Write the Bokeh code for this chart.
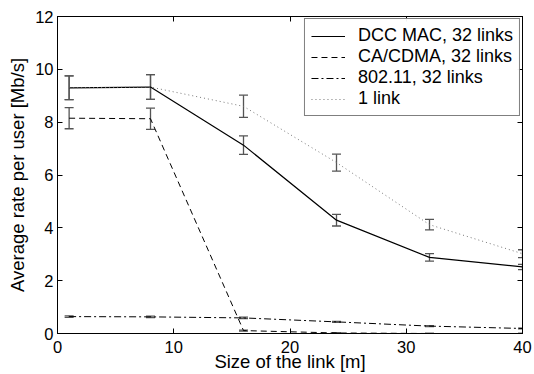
from bokeh.plotting import figure
from bokeh.models import (ColumnDataSource, Whisker, TeeHead, LinearAxis, Range1d,
                          FixedTicker, Legend, LegendItem)
from bokeh.embed import file_html
from bokeh.resources import INLINE

# Link size [m]
sizes = [1, 8, 16, 24, 32, 40]

# Average rate per user [Mb/s] and error half-widths
dcc_rate = [9.30, 9.33, 7.13, 4.29, 2.88, 2.52]
dcc_err = [0.45, 0.47, 0.35, 0.22, 0.14, 0.10]

cacdma_rate = [8.15, 8.13, 0.11, 0.02, 0.0, 0.0]
cacdma_err = [0.40, 0.40, 0.02, 0.01, 0.0, 0.0]

wifi_rate = [0.64, 0.63, 0.59, 0.44, 0.28, 0.19]
wifi_err = [0.03, 0.03, 0.03, 0.02, 0.02, 0.01]

single_rate = [9.30, 9.33, 8.60, 6.47, 4.12, 3.02]
single_err = [0.45, 0.47, 0.42, 0.32, 0.20, 0.15]

x_ticks = [0, 10, 20, 30, 40]
y_ticks = [0, 2, 4, 6, 8, 10, 12]

FONT = "Liberation Sans"

p = figure(width=534, height=374, output_backend="svg", toolbar_location=None,
           x_range=Range1d(0, 40), y_range=Range1d(0, 12),
           min_border_left=57, min_border_right=12, min_border_top=16, min_border_bottom=41)
p.xgrid.visible = False
p.ygrid.visible = False
p.outline_line_color = "black"
p.outline_line_width = 1
p.background_fill_color = "white"
p.border_fill_color = "white"

series = [
    ("DCC MAC, 32 links", dcc_rate, dcc_err, "black", "solid", 1.2),
    ("CA/CDMA, 32 links", cacdma_rate, cacdma_err, "black", "6 4", 1.0),
    ("802.11, 32 links", wifi_rate, wifi_err, "black", "7 3 2 3", 1.0),
    ("1 link", single_rate, single_err, "#777777", "1 3", 1.0),
]

items = []
for name, rate, err, color, dash, lw in series:
    src = ColumnDataSource(dict(
        x=sizes, y=rate,
        lo=[r - e for r, e in zip(rate, err)],
        hi=[r + e for r, e in zip(rate, err)],
    ))
    w = Whisker(base="x", lower="lo", upper="hi", source=src,
                line_color="#555555", line_width=1.3,
                upper_head=TeeHead(size=9, line_color="#555555", line_width=1.3),
                lower_head=TeeHead(size=9, line_color="#555555", line_width=1.3))
    p.add_layout(w)
    r = p.line("x", "y", source=src, line_color=color, line_dash=dash, line_width=lw)
    items.append(LegendItem(label=name, renderers=[r]))

legend = Legend(items=items, location="top_right")
legend.border_line_color = "black"
legend.border_line_width = 1
legend.label_text_font = FONT
legend.label_text_font_size = "18px"
legend.label_text_color = "black"
legend.glyph_width = 34
legend.glyph_height = 16
legend.label_height = 16
legend.spacing = 0
legend.padding = 6
legend.margin = 2
legend.label_standoff = 13
p.add_layout(legend)

for ax, ticks in ((p.xaxis[0], x_ticks), (p.yaxis[0], y_ticks)):
    ax.ticker = FixedTicker(ticks=ticks)
    ax.major_tick_in = 5
    ax.major_tick_out = 0
    ax.minor_tick_line_color = None
    ax.axis_line_color = "black"
    ax.major_label_text_font = FONT
    ax.major_label_text_font_size = "16.5px"
    ax.major_label_text_color = "black"
    ax.axis_label_text_font = FONT
    ax.axis_label_text_font_size = "18.5px"
    ax.axis_label_text_font_style = "normal"
    ax.axis_label_text_color = "black"

p.xaxis.axis_label = "Size of the link [m]"
p.yaxis.axis_label = "Average rate per user [Mb/s]"
p.xaxis.major_label_standoff = 7
p.yaxis.major_label_standoff = 4
p.xaxis.axis_label_standoff = -5
p.yaxis.axis_label_standoff = 4

# Inward ticks on the top and right edges of the box, without labels
top = LinearAxis(ticker=FixedTicker(ticks=x_ticks),
                 major_label_overrides={t: "" for t in x_ticks},
                 major_tick_in=5, major_tick_out=0, minor_tick_line_color=None)
right = LinearAxis(ticker=FixedTicker(ticks=y_ticks),
                   major_label_overrides={t: "" for t in y_ticks},
                   major_tick_in=5, major_tick_out=0, minor_tick_line_color=None)
top.major_label_standoff = 0
right.major_label_standoff = 0
p.add_layout(top, "above")
p.add_layout(right, "right")

open("out.html", "w").write(file_html(p, INLINE))
